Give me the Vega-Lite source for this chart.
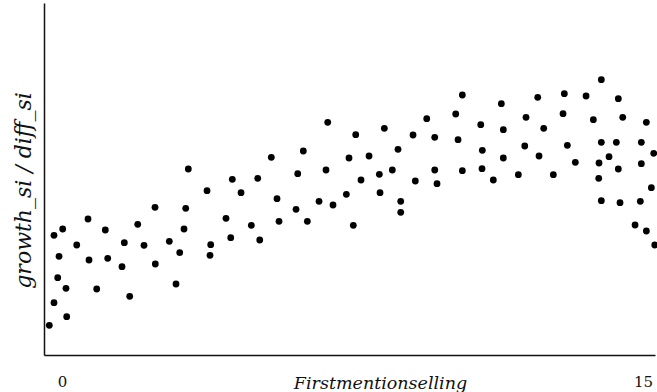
{
  "$schema": "https://vega.github.io/schema/vega-lite/v6.json",
  "width": 611,
  "height": 352,
  "autosize": {"type": "none"},
  "padding": {"left": 44, "top": 3, "right": 2, "bottom": 37},
  "background": "white",
  "config": {
    "view": {"stroke": null},
    "axis": {"grid": false, "domainColor": "#111111", "domainWidth": 1.5, "ticks": false, "tickSize": 0, "labelColor": "#111111", "titleColor": "#111111", "titleFontWeight": "normal", "titleFontStyle": "italic"}
  },
  "data": {"values": [
    {"x": -0.328, "y": 0.297}, {"x": -0.207, "y": 0.523}, {"x": 0.121, "y": 0.383}, {"x": -0.111, "y": 0.773},
    {"x": 0.103, "y": 0.667}, {"x": -0.077, "y": 0.987}, {"x": -0.207, "y": 1.197}, {"x": 0.018, "y": 1.26},
    {"x": 0.380, "y": 1.10}, {"x": 0.671, "y": 1.36}, {"x": 0.697, "y": 0.95}, {"x": 0.896, "y": 0.66},
    {"x": 1.118, "y": 1.25}, {"x": 1.180, "y": 0.967}, {"x": 1.609, "y": 1.123}, {"x": 1.549, "y": 0.883},
    {"x": 1.748, "y": 0.587}, {"x": 1.955, "y": 1.307}, {"x": 2.117, "y": 1.097}, {"x": 2.401, "y": 1.477},
    {"x": 2.409, "y": 0.91}, {"x": 2.770, "y": 1.137}, {"x": 2.943, "y": 0.71}, {"x": 3.039, "y": 1.023},
    {"x": 3.150, "y": 1.26}, {"x": 3.194, "y": 1.467}, {"x": 3.261, "y": 1.86}, {"x": 3.744, "y": 1.643},
    {"x": 3.839, "y": 1.103}, {"x": 3.821, "y": 0.997}, {"x": 4.234, "y": 1.367}, {"x": 4.356, "y": 1.173},
    {"x": 4.397, "y": 1.757}, {"x": 4.622, "y": 1.623}, {"x": 4.888, "y": 1.297}, {"x": 5.053, "y": 1.767},
    {"x": 5.105, "y": 1.15}, {"x": 5.404, "y": 1.977}, {"x": 5.551, "y": 1.563}, {"x": 5.603, "y": 1.337},
    {"x": 6.042, "y": 1.457}, {"x": 6.086, "y": 1.813}, {"x": 6.230, "y": 2.04}, {"x": 6.334, "y": 1.337},
    {"x": 6.636, "y": 1.537}, {"x": 6.816, "y": 1.85}, {"x": 6.860, "y": 2.327}, {"x": 6.997, "y": 1.50},
    {"x": 7.341, "y": 1.607}, {"x": 7.521, "y": 1.297}, {"x": 7.410, "y": 1.97}, {"x": 7.583, "y": 2.203},
    {"x": 7.720, "y": 1.75}, {"x": 7.927, "y": 1.99}, {"x": 8.193, "y": 1.807}, {"x": 8.211, "y": 1.623},
    {"x": 8.322, "y": 2.267}, {"x": 8.528, "y": 1.85}, {"x": 8.675, "y": 2.057}, {"x": 8.745, "y": 1.537},
    {"x": 8.745, "y": 1.427}, {"x": 9.063, "y": 2.20}, {"x": 9.122, "y": 1.74}, {"x": 9.417, "y": 2.363},
    {"x": 9.623, "y": 2.177}, {"x": 9.623, "y": 1.85}, {"x": 9.682, "y": 1.713}, {"x": 10.165, "y": 2.41},
    {"x": 10.225, "y": 2.153}, {"x": 10.336, "y": 2.60}, {"x": 10.336, "y": 1.843}, {"x": 10.811, "y": 2.303},
    {"x": 10.852, "y": 2.047}, {"x": 10.844, "y": 1.863}, {"x": 11.136, "y": 1.75}, {"x": 11.343, "y": 2.513},
    {"x": 11.394, "y": 2.253}, {"x": 11.394, "y": 1.97}, {"x": 11.782, "y": 1.803}, {"x": 11.980, "y": 2.377},
    {"x": 11.947, "y": 2.09}, {"x": 12.282, "y": 2.577}, {"x": 12.316, "y": 1.99}, {"x": 12.437, "y": 2.267},
    {"x": 12.685, "y": 1.803}, {"x": 12.969, "y": 2.613}, {"x": 12.936, "y": 2.413}, {"x": 13.047, "y": 2.097},
    {"x": 13.253, "y": 1.927}, {"x": 13.530, "y": 2.59}, {"x": 13.718, "y": 2.353}, {"x": 13.924, "y": 2.753},
    {"x": 13.924, "y": 2.127}, {"x": 13.865, "y": 1.92}, {"x": 13.857, "y": 1.767}, {"x": 13.924, "y": 1.543},
    {"x": 14.123, "y": 1.983}, {"x": 14.312, "y": 2.127}, {"x": 14.363, "y": 2.563}, {"x": 14.477, "y": 2.377},
    {"x": 14.363, "y": 1.86}, {"x": 14.407, "y": 1.523}, {"x": 14.795, "y": 1.30}, {"x": 14.931, "y": 1.537},
    {"x": 14.957, "y": 2.127}, {"x": 14.957, "y": 1.913}, {"x": 15.087, "y": 2.327}, {"x": 15.087, "y": 1.24},
    {"x": 15.216, "y": 1.673}, {"x": 15.278, "y": 2.017}, {"x": 15.304, "y": 1.10}
  ]},
  "mark": {"type": "circle", "color": "#000000", "opacity": 1, "size": 46},
  "encoding": {
    "x": {
      "field": "x", "type": "quantitative",
      "scale": {"domain": [-0.465, 15.31], "nice": false, "zero": false},
      "axis": {"values": [0, 15], "title": "Firstmentionselling", "labelFont": "DejaVu Serif", "titleFont": "DejaVu Serif", "labelFontSize": 15, "labelBaseline": "alphabetic", "labelPadding": 31, "labelFlush": false, "titleFontSize": 17.5, "titleBaseline": "alphabetic", "titleY": 33, "titleX": 336, "titleAlign": "center"}
    },
    "y": {
      "field": "y", "type": "quantitative",
      "scale": {"domain": [0, 3.52], "nice": false, "zero": false},
      "axis": {"labels": false, "title": "growth_si / diff_si", "titleFont": "DejaVu Serif", "titleFontSize": 22, "titleBaseline": "alphabetic", "titleAngle": -90, "titleX": -14, "titleY": 187, "titleAlign": "center"}
    }
  }
}
